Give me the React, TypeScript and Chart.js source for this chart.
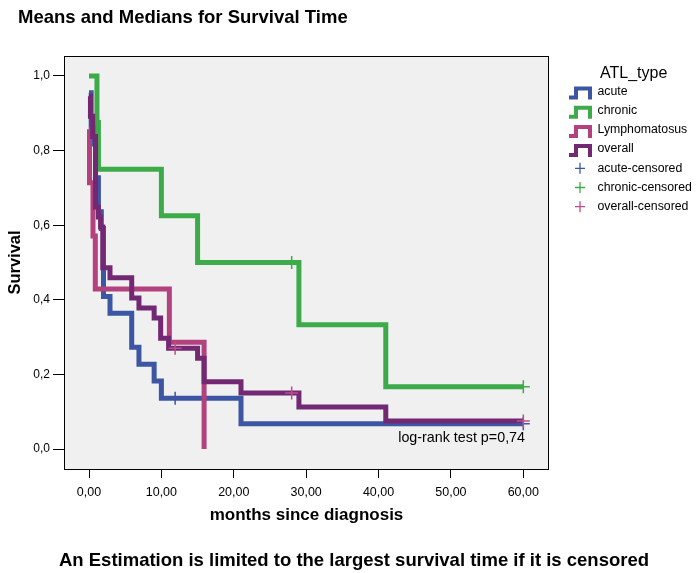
import React, { useEffect, useRef } from 'react';
import { Chart, registerables } from 'chart.js';
Chart.register(...registerables);

// ---- data ----
const xTicks = [0, 10, 20, 30, 40, 50, 60];
const yTicks = [0, 0.2, 0.4, 0.6, 0.8, 1.0];

const acuteTime = [0, 0.3, 0.6, 0.9, 1.3, 1.7, 2.0, 2.9, 5.9, 6.9, 9.0, 10, 21, 60];
const acuteSurv = [0.955, 0.864, 0.818, 0.727, 0.636, 0.591, 0.409, 0.364, 0.273, 0.227, 0.182, 0.136, 0.068, 0.068];

const chronicTime = [0, 1.1, 1.3, 10, 15, 29, 41, 60];
const chronicSurv = [1.0, 0.875, 0.75, 0.625, 0.5, 0.333, 0.167, 0.167];

const lymphTime = [0, 0.07, 0.55, 0.87, 11.1, 15.9];
const lymphSurv = [0.857, 0.714, 0.571, 0.429, 0.286, 0.0];

const overallTime = [0, 0.2, 0.5, 0.9, 1.3, 1.6, 1.9, 2.9, 5.9, 6.9, 9.0, 9.9, 11.0, 15.0, 15.9, 21, 29, 41, 60];
const overallSurv = [0.946, 0.892, 0.838, 0.649, 0.622, 0.595, 0.486, 0.459, 0.405, 0.378, 0.351, 0.297, 0.270, 0.243, 0.180, 0.150, 0.1125, 0.075, 0.075];

const acuteCensTime = [11.9, 60];
const acuteCensSurv = [0.136, 0.068];
const chronicCensTime = [28, 60];
const chronicCensSurv = [0.5, 0.167];
const overallCensTime = [11.9, 28, 60];
const overallCensSurv = [0.270, 0.150, 0.075];

const legendLabels = ['acute', 'chronic', 'Lymphomatosus', 'overall', 'acute-censored', 'chronic-censored', 'overall-censored'];

// ---- styles ----
const C_ACUTE = '#3d56a3';
const C_CHRONIC = '#3dab4a';
const C_LYMPH = '#b2417d';
const C_OVERALL = '#732874';
const C_OVERALL_CENS = '#c04d8b';
const FONT = '"Liberation Sans", Arial, Helvetica, sans-serif';

const pts = (t: number[], s: number[]) => t.map((x, i) => ({ x, y: s[i] }));

const decorPlugin = {
  id: 'decor',
  beforeDraw(chart: any) {
    const { ctx, chartArea } = chart;
    const { left, top, right, bottom } = chartArea;
    ctx.save();
    ctx.fillStyle = '#ffffff';
    ctx.fillRect(0, 0, chart.width, chart.height);
    ctx.fillStyle = '#f0f0f0';
    ctx.fillRect(left, top, right - left, bottom - top);
    ctx.restore();
  },
  afterDraw(chart: any) {
    const { ctx, chartArea } = chart;
    const { left, top, right, bottom } = chartArea;
    ctx.save();
    // frame
    ctx.strokeStyle = '#000';
    ctx.lineWidth = 1;
    ctx.strokeRect(left + 0.5, top + 0.5, right - left - 1, bottom - top);

    // title
    ctx.fillStyle = '#000';
    ctx.font = `bold 18.5px ${FONT}`;
    ctx.textBaseline = 'middle';
    ctx.textAlign = 'left';
    ctx.fillText('Means and Medians for Survival Time', 18, 18);

    // note
    ctx.textAlign = 'center';
    ctx.fillText('An Estimation is limited to the largest survival time if it is censored', 354, 561);

    // log-rank
    ctx.font = `14.3px ${FONT}`;
    ctx.textAlign = 'right';
    ctx.fillText('log-rank test p=0,74', 525, 438);

    // legend
    ctx.textAlign = 'left';
    ctx.font = `16px ${FONT}`;
    ctx.fillText('ATL_type', 600, 74);
    ctx.font = `12.3px ${FONT}`;
    const colors = [C_ACUTE, C_CHRONIC, C_LYMPH, C_OVERALL, C_ACUTE, C_CHRONIC, C_OVERALL_CENS];
    legendLabels.forEach((lab, i) => {
      const cy = 91.5 + i * 19.2;
      ctx.fillStyle = '#000';
      ctx.fillText(lab, 597.5, cy);
      if (i < 4) {
        ctx.strokeStyle = colors[i];
        ctx.lineWidth = 4;
        ctx.lineJoin = 'miter';
        ctx.beginPath();
        ctx.moveTo(569, cy + 6);
        ctx.lineTo(576, cy + 6);
        ctx.lineTo(576, cy - 3);
        ctx.lineTo(590, cy - 3);
        ctx.lineTo(590, cy + 8);
        ctx.stroke();
      } else {
        ctx.strokeStyle = colors[i];
        ctx.lineWidth = 1.3;
        ctx.beginPath();
        ctx.moveTo(575, cy);
        ctx.lineTo(585, cy);
        ctx.moveTo(580, cy - 5.5);
        ctx.lineTo(580, cy + 5.5);
        ctx.stroke();
      }
    });
    ctx.restore();
  },
};

export default function App() {
  const ref = useRef<HTMLCanvasElement | null>(null);
  useEffect(() => {
    if (!ref.current) return;
    const stepLine = (label: string, data: any[], color: string, order: number) => ({
      type: 'line' as const,
      label,
      data,
      borderColor: color,
      backgroundColor: color,
      borderWidth: 5,
      stepped: 'before' as const,
      pointRadius: 0,
      fill: false,
      order,
      borderJoinStyle: 'miter' as const,
      borderCapStyle: 'butt' as const,
    });
    const cens = (label: string, data: any[], color: string) => ({
      type: 'line' as const,
      label,
      data,
      showLine: false,
      pointStyle: 'cross' as const,
      pointRadius: 6.5,
      pointBorderWidth: 1.5,
      pointBorderColor: color,
      pointBackgroundColor: color,
      borderColor: color,
      order: 0,
    });
    const chart = new Chart(ref.current, {
      type: 'line',
      data: {
        datasets: [
          cens('overall-censored', pts(overallCensTime, overallCensSurv), C_OVERALL_CENS),
          cens('chronic-censored', pts(chronicCensTime, chronicCensSurv), C_CHRONIC),
          cens('acute-censored', pts(acuteCensTime, acuteCensSurv), C_ACUTE),
          stepLine('overall', pts(overallTime, overallSurv), C_OVERALL, 1),
          stepLine('Lymphomatosus', pts(lymphTime, lymphSurv), C_LYMPH, 2),
          stepLine('chronic', pts(chronicTime, chronicSurv), C_CHRONIC, 3),
          stepLine('acute', pts(acuteTime, acuteSurv), C_ACUTE, 4),
        ] as any,
      },
      options: {
        responsive: false,
        animation: false,
        devicePixelRatio: 1,
        layout: { padding: { top: 56, right: 150, left: 0, bottom: 0 } },
        plugins: {
          legend: { display: false },
          title: { display: false },
          tooltip: { enabled: false },
        },
        scales: {
          x: {
            type: 'linear',
            min: -3.454,
            max: 63.55,
            afterBuildTicks: (scale: any) => {
              scale.ticks = xTicks.map((v) => ({ value: v }));
            },
            afterFit: (scale: any) => {
              scale.height = 104;
            },
            ticks: {
              color: '#000',
              font: { family: FONT, size: 12.5 },
              padding: 7,
              maxRotation: 0,
              autoSkip: false,
              callback: (v: any) => Number(v).toFixed(2).replace('.', ','),
            },
            grid: { drawOnChartArea: false, drawTicks: true, tickLength: 9, color: '#000' },
            border: { display: false },
            title: {
              display: true,
              text: 'months since diagnosis',
              color: '#000',
              font: { family: FONT, size: 17, weight: 'bold' },
              padding: { top: 0, bottom: 47 },
            },
          },
          y: {
            type: 'linear',
            min: -0.0536,
            max: 1.0536,
            afterBuildTicks: (scale: any) => {
              scale.ticks = yTicks.map((v) => ({ value: v }));
            },
            afterFit: (scale: any) => {
              scale.width = 64;
            },
            ticks: {
              color: '#000',
              font: { family: FONT, size: 12 },
              padding: 3,
              autoSkip: false,
              callback: (v: any) => Number(v).toFixed(1).replace('.', ','),
            },
            grid: { drawOnChartArea: false, drawTicks: true, tickLength: 11, color: '#000' },
            border: { display: false },
            title: {
              display: true,
              text: 'Survival',
              color: '#000',
              font: { family: FONT, size: 16.5, weight: 'bold' },
              padding: { top: 6, bottom: 0 },
            },
          },
        },
      },
      plugins: [decorPlugin],
    });
    return () => chart.destroy();
  }, []);
  return (
    <canvas
      ref={ref}
      width={699}
      height={573}
      style={{ position: 'absolute', left: 0, top: 0, width: 699, height: 573, display: 'block' }}
    />
  );
}
